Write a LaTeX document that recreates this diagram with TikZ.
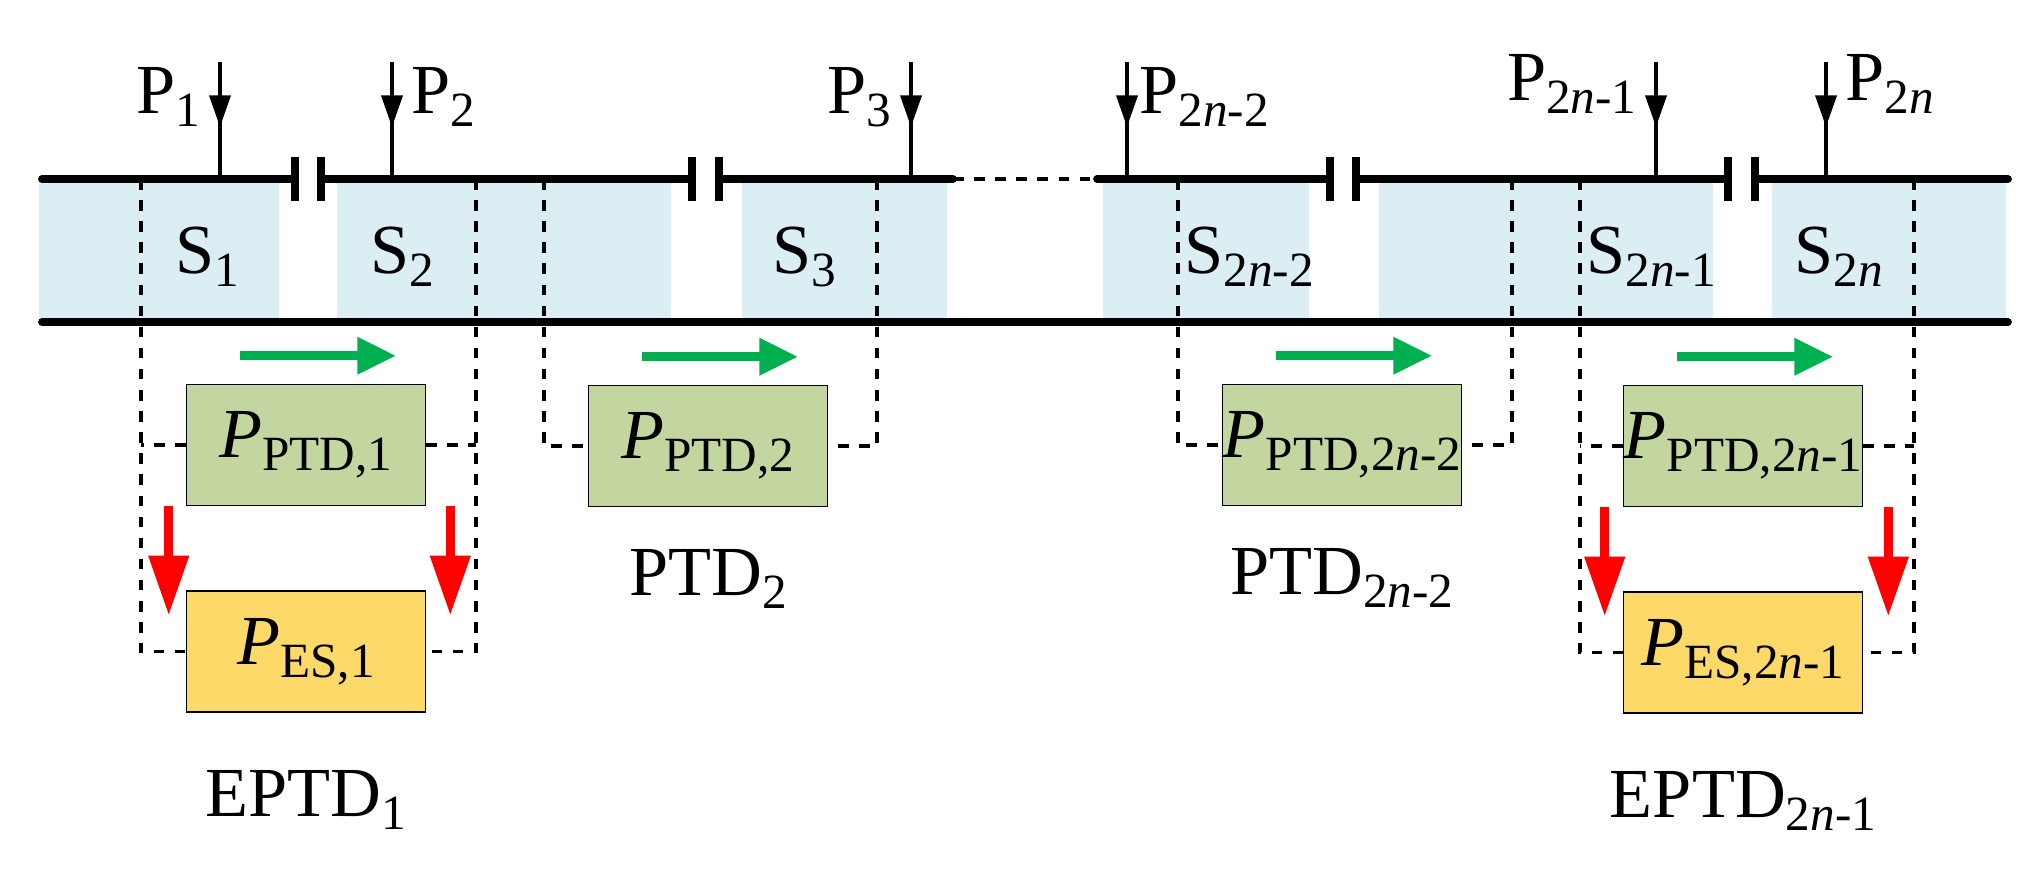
\documentclass[tikz,border=0pt]{standalone}
\usepackage{fontspec}
\setmainfont{Liberation Serif}
\usepackage{xcolor}
\usetikzlibrary{arrows.meta,positioning}
\definecolor{lineblue}{RGB}{218,238,243}
\definecolor{boxgreen}{RGB}{196,214,160}
\definecolor{boxyellow}{RGB}{253,217,106}
\definecolor{flowgreen}{RGB}{0,176,80}
\newcommand{\lowtxt}[1]{\raisebox{-0.4ex}{\fontsize{14}{14}\selectfont #1}}

\begin{document}
\begin{tikzpicture}[
            x=0.01cm, y=-0.01cm,
            font=\fontsize{20}{22}\selectfont,
            ptd/.style={rectangle, draw, thin, fill=boxgreen, minimum width=2.39cm, minimum height=1.21cm, inner sep=0pt},
            es/.style={rectangle, draw, thin, fill=boxyellow, minimum width=2.39cm, minimum height=1.21cm, inner sep=0pt},
            sect/.style={fill=lineblue},
            bus/.style={line width=2.2pt, line cap=round},
            plate/.style={line width=2.2pt},
            tie/.style={dashed, line width=0.9pt},
            inj/.style={-{Triangle[length=9pt,width=6pt]}, line width=1pt},
            green arrow/.style={-{Triangle[length=11pt,width=10pt]}, line width=2.5pt, flowgreen},
            red arrow/.style={-{Triangle[length=17pt,width=11pt]}, line width=2.5pt, red}
        ]
        \useasboundingbox (0,0) rectangle (2033,875);

        % shaded sections
        \fill[sect] (39,179) rectangle (279,322);
        \fill[sect] (337,179) rectangle (671,322);
        \fill[sect] (742,179) rectangle (947,322);
        \fill[sect] (1103,179) rectangle (1309,322);
        \fill[sect] (1379,179) rectangle (1713,322);
        \fill[sect] (1772,179) rectangle (2006,322);

        % rails
        \draw[bus] (42,179) -- (295,179);
        \draw[bus] (321,179) -- (692,179);
        \draw[bus] (719,179) -- (953,179);
        \draw[tie] (953,179) -- (1097,179);
        \draw[bus] (1097,179) -- (1330,179);
        \draw[bus] (1356,179) -- (1728,179);
        \draw[bus] (1755,179) -- (2008,179);
        \draw[bus] (42,322) -- (2008,322);
        \foreach \px in {295,321,692,719,1330,1356,1728,1755}
            \draw[plate] (\px,157) -- (\px,201);

        % injections
        \coordinate (c1) at (220,179);
        \coordinate (c2) at (392,179);
        \coordinate (c3) at (911,179);
        \coordinate (c4) at (1127,179);
        \coordinate (c5) at (1656,179);
        \coordinate (c6) at (1826,179);
        \foreach \c in {c1,c2,c3,c4,c5,c6}{
            \draw[line width=1pt] ([yshift=1.17cm]\c) -- (\c);
            \draw[inj] ([yshift=1.17cm]\c) -- ([yshift=0.52cm]\c);
        }
        \node[left=2pt of c1, yshift=0.82cm] {P\lowtxt{1}};
        \node[right=2pt of c2, yshift=0.82cm] {P\lowtxt{2}};
        \node[left=2pt of c3, yshift=0.82cm] {P\lowtxt{3}};
        \node[right=0pt of c4, yshift=0.82cm] {P\lowtxt{2\textit{n}-2}};
        \node[left=2pt of c5, yshift=0.95cm] {P\lowtxt{2\textit{n}-1}};
        \node[right=2pt of c6, yshift=0.95cm] {P\lowtxt{2\textit{n}}};

        % section labels
        \node at (207,257) {S\lowtxt{1}};
        \node at (402,257) {S\lowtxt{2}};
        \node at (804,257) {S\lowtxt{3}};
        \node at (1249,257) {S\lowtxt{2\textit{n}-2}};
        \node at (1651,257) {S\lowtxt{2\textit{n}-1}};
        \node at (1839,257) {S\lowtxt{2\textit{n}}};

        % devices
        \node[ptd] (ptd1) at (306,445) {\textit{P}\lowtxt{PTD,1}};
        \node[es, below=0.84cm of ptd1] (es1) {\textit{P}\lowtxt{ES,1}};
        \node[ptd] (ptd2) at (708,446) {\textit{P}\lowtxt{PTD,2}};
        \node[ptd] (ptd3) at (1342,445) {\textit{P}\lowtxt{PTD,2\textit{n}-2}};
        \node[ptd] (ptd4) at (1743,446) {\textit{P}\lowtxt{PTD,2\textit{n}-1}};
        \node[es, below=0.84cm of ptd4] (es4) {\textit{P}\lowtxt{ES,2\textit{n}-1}};

        \node[below=0.3cm of ptd2] (lab2) {PTD\lowtxt{2}};
        \node[below=0.3cm of ptd3] (lab3) {PTD\lowtxt{2\textit{n}-2}};
        \node[below=0.45cm of es1] (lab1) {EPTD\lowtxt{1}};
        \node[below=0.45cm of es4] (lab4) {EPTD\lowtxt{2\textit{n}-1}};

        % taps
        \coordinate (t1) at (141,179);
        \coordinate (t2) at (476,179);
        \coordinate (t3) at (544,179);
        \coordinate (t4) at (877,179);
        \coordinate (t5) at (1178,179);
        \coordinate (t6) at (1512,179);
        \coordinate (t7) at (1580,179);
        \coordinate (t8) at (1914,179);
        \draw[tie] (t1) |- (es1.west);
        \draw[tie] (t2) |- (es1.east);
        \draw[tie] (ptd1.west) -- (ptd1.west -| t1);
        \draw[tie] (ptd1.east) -- (ptd1.east -| t2);
        \draw[tie] (t3) |- (ptd2.west);
        \draw[tie] (t4) |- (ptd2.east);
        \draw[tie] (t5) |- (ptd3.west);
        \draw[tie] (t6) |- (ptd3.east);
        \draw[tie] (t7) |- (es4.west);
        \draw[tie] (t8) |- (es4.east);
        \draw[tie] (ptd4.west) -- (ptd4.west -| t7);
        \draw[tie] (ptd4.east) -- (ptd4.east -| t8);

        % power flow
        \foreach \b in {ptd1,ptd2,ptd3,ptd4}
            \draw[green arrow] ([xshift=-0.66cm,yshift=0.28cm]\b.north) -- ([xshift=0.9cm,yshift=0.28cm]\b.north);
        \draw[red arrow] ([xshift=-0.17cm]ptd1.south west) -- ([xshift=-0.17cm,yshift=-0.25cm]es1.north west);
        \draw[red arrow] ([xshift=0.24cm]ptd1.south east) -- ([xshift=0.24cm,yshift=-0.25cm]es1.north east);
        \draw[red arrow] ([xshift=-0.18cm]ptd4.south west) -- ([xshift=-0.18cm,yshift=-0.25cm]es4.north west);
        \draw[red arrow] ([xshift=0.25cm]ptd4.south east) -- ([xshift=0.25cm,yshift=-0.25cm]es4.north east);

        \end{tikzpicture}
\end{document}
